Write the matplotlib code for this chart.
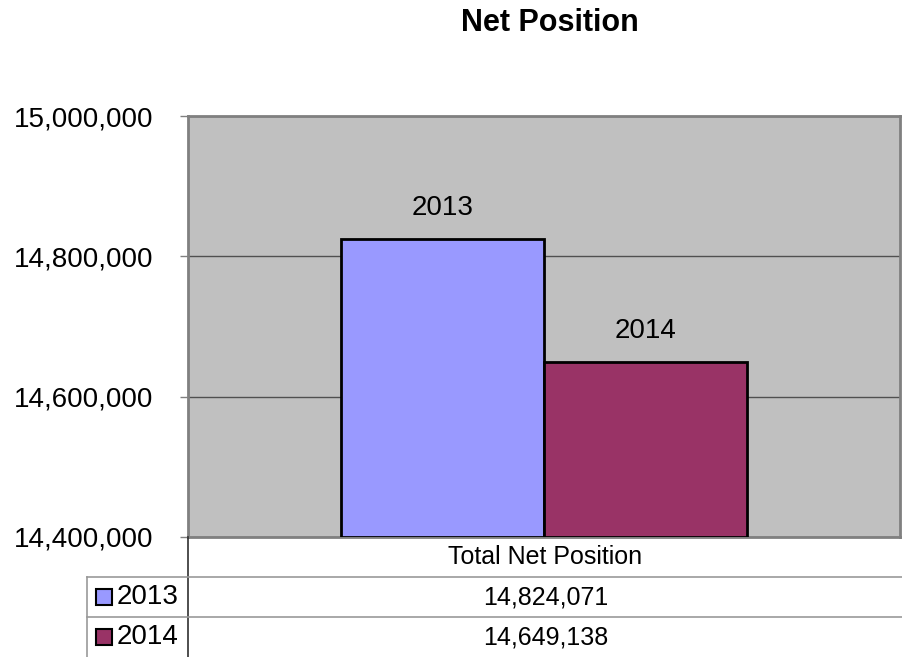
import matplotlib.pyplot as plt
from matplotlib.patches import Rectangle
from matplotlib.lines import Line2D
from matplotlib.ticker import FuncFormatter

plt.rcParams['font.family'] = ['Liberation Sans', 'DejaVu Sans']

# datos
categoria = "Total Net Position"
series = ["2013", "2014"]
valores = [14824071, 14649138]
colores = ["#9999FF", "#993366"]
y_ticks = [14400000, 14600000, 14800000, 15000000]

W, H = 903, 657
fig = plt.figure(figsize=(W/100, H/100), dpi=100)

# area del grafico (en pixeles de la figura)
x0, x1, y_top, y_bot = 188, 900, 116, 537
ax = fig.add_axes([x0/W, 1 - y_bot/H, (x1-x0)/W, (y_bot-y_top)/H])
ax.set_facecolor("#C0C0C0")

ancho = 0.285
pos = [-ancho/2, ancho/2]
barras = ax.bar(pos, [v - y_ticks[0] for v in valores], bottom=y_ticks[0],
                width=ancho, color=colores, edgecolor="black", linewidth=2, zorder=3)
for b, s in zip(barras, series):
    ax.annotate(s, (b.get_x() + b.get_width()/2, b.get_y() + b.get_height()),
                xytext=(0, 13), textcoords="offset points",
                ha="center", va="bottom", fontsize=20)

ax.set_xlim(-0.5, 0.5)
ax.set_ylim(y_ticks[0], y_ticks[-1])
ax.set_yticks(y_ticks)
ax.yaxis.set_major_formatter(FuncFormatter(lambda v, p: f"{int(v):,}"))
ax.tick_params(axis="y", labelsize=20, length=6, width=1, pad=19, color="#808080")
ax.set_xticks([])
ax.grid(axis="y", color="#505050", linewidth=1, zorder=1)
for s in ax.spines.values():
    s.set_color("#808080")
    s.set_linewidth(2)

fig.text(550/W, 1 - 23/H, "Net Position", ha="center", va="center",
         fontsize=22, fontweight="bold")

# tabla de datos
fx = lambda px: px/W
fy = lambda py: 1 - py/H
fila = 40
lx = 87
gris = "#999999"
lineas = [
    ((x0, x0), (y_bot, H), "#303030"),
    ((lx, lx), (y_bot + fila, H), gris),
    ((lx, W), (y_bot + fila, y_bot + fila), gris),
    ((lx, W), (y_bot + 2*fila, y_bot + 2*fila), gris),
]
for xs, ys, c in lineas:
    fig.add_artist(Line2D([fx(x) for x in xs], [fy(y) for y in ys], color=c, linewidth=1.2))

cx = (x0 + W)/2
fig.text(fx(cx), fy(y_bot + fila/2), categoria, ha="center", va="center", fontsize=18)
for i, (s, v, c) in enumerate(zip(series, valores, colores)):
    yc = y_bot + fila*(i + 1) + fila/2
    fig.text(fx(cx), fy(yc), f"{v:,}", ha="center", va="center", fontsize=18)
    fig.add_artist(Rectangle((fx(96), fy(yc + 8)), 16/W, 16/H, facecolor=c,
                             edgecolor="black", linewidth=1.5))
    fig.text(fx(117), fy(yc), s, ha="left", va="center", fontsize=20)

fig.savefig("out.png", dpi=100)
